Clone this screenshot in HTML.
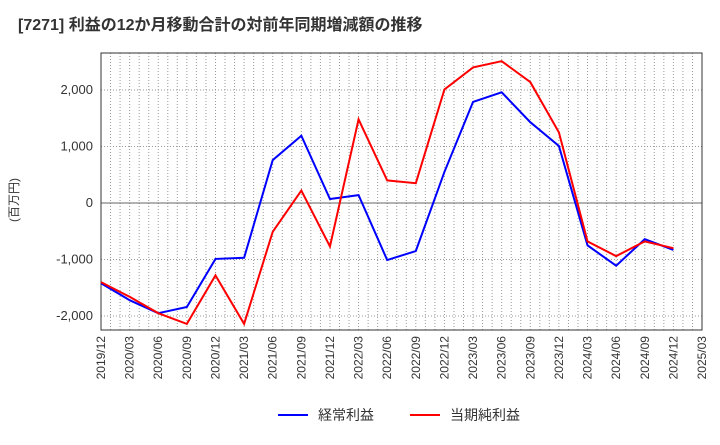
<!DOCTYPE html>
<html><head><meta charset="utf-8"><style>
body{margin:0;background:#fff;font-family:"Liberation Sans","Noto Sans CJK JP",sans-serif}
</style></head><body>
<svg id="c" width="720" height="440" xmlns="http://www.w3.org/2000/svg">
<text x="18" y="30" font-size="16" font-weight="bold" fill="#333">[7271]  利益の12か月移動合計の対前年同期増減額の推移</text>
<text transform="translate(18,200) rotate(-90)" font-size="12" fill="#333" text-anchor="middle">(百万円)</text>
<g id="grid"></g><g id="axes"></g><g id="series"></g>
<g>
<line x1="278" y1="415" x2="308" y2="415" stroke="#0000ff" stroke-width="2"/>
<text x="318" y="420" font-size="14" fill="#333">経常利益</text>
<line x1="410" y1="415" x2="440" y2="415" stroke="#ff0000" stroke-width="2"/>
<text x="450" y="420" font-size="14" fill="#333">当期純利益</text>
</g>
</svg>
<script>
const categories=["2019/12","2020/03","2020/06","2020/09","2020/12","2021/03","2021/06","2021/09","2021/12","2022/03","2022/06","2022/09","2022/12","2023/03","2023/06","2023/09","2023/12","2024/03","2024/06","2024/09","2024/12","2025/03"];
const ordinary=[-1420,-1720,-1950,-1840,-990,-970,760,1190,70,140,-1010,-850,550,1790,1960,1430,1010,-750,-1110,-640,-830];
const net=[-1400,-1660,-1950,-2140,-1280,-2140,-510,220,-770,1480,400,350,2010,2400,2510,2140,1250,-680,-940,-680,-800];
const yTicks=[-2000,-1000,0,1000,2000];
const yTickLabels=["-2,000","-1,000","0","1,000","2,000"];
const L=101,R=702,T=53,B=330;
const x=i=>L+(R-L)*i/(categories.length-1);
const y=v=>203-v*0.0565;
const NS="http://www.w3.org/2000/svg";
function mk(tag,parent,attrs){const e=document.createElementNS(NS,tag);for(const k in attrs)e.setAttribute(k,attrs[k]);parent.appendChild(e);return e;}
const grid=document.getElementById('grid'),axes=document.getElementById('axes'),ser=document.getElementById('series');
const bg=mk('rect',grid,{x:L,y:T,width:R-L,height:B-T,fill:'#fff'});


for(let m=1;m<(categories.length-1)*3;m++){const xx=L+(R-L)*m/((categories.length-1)*3);
const g=mk('line',grid,{x1:xx,x2:xx,y1:T,y2:B,stroke:'#999','stroke-dasharray':'1,2','stroke-width':1});

}
yTicks.forEach((v,i)=>{const g=mk('line',grid,{x1:L,x2:R,y1:y(v),y2:y(v),stroke:v===0?'#666':'#999','stroke-dasharray':v===0?'none':'1,2','stroke-width':1});


const t=mk('text',axes,{x:L-8,y:y(v)+4,'font-size':13,fill:'#333','text-anchor':'end'});t.textContent=yTickLabels[i];

});
const fr=mk('rect',axes,{x:L,y:T,width:R-L,height:B-T,fill:'none',stroke:'#333','stroke-width':1});


categories.forEach((c,i)=>{const t=mk('text',axes,{transform:`translate(${x(i)+4},${B+6}) rotate(-90)`,'font-size':12,fill:'#333','text-anchor':'end'});t.textContent=c;

});
function line(d,col,name){const p=mk('polyline',ser,{points:d.map((v,i)=>x(i)+','+y(v)).join(' '),fill:'none',stroke:col,'stroke-width':2});

}
line(ordinary,'#0000ff','ordinary-profit-line');
line(net,'#ff0000','net-profit-line');
</script>
</body></html>
